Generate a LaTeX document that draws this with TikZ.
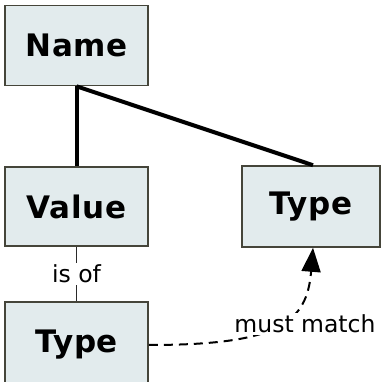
\documentclass[tikz,border=0pt]{standalone}
\usepackage{fontspec}
\setmainfont{DejaVu Sans}
\newfontfamily\boxfont[LetterSpace=2]{DejaVu Sans}
\usetikzlibrary{arrows.meta, positioning}
\definecolor{boxfill}{HTML}{E2EBED}
\definecolor{boxline}{HTML}{45453A}
\definecolor{linkgrey}{HTML}{2A2A2A}

\tikzset{
  termbox/.style={draw=boxline, fill=boxfill, line width=1.6pt,
                  font=\boxfont\fontsize{31}{36}\selectfont\bfseries,
                  minimum width=143pt, minimum height=80pt, inner sep=0pt},
  treeline/.style={black, line width=4pt},
  relline/.style={linkgrey, line width=1.6pt},
  rellabel/.style={fill=white, font=\fontsize{23.5}{27}\selectfont,
                   inner sep=2pt, text=black}
}

\begin{document}
\begin{tikzpicture}[x=1pt, y=1pt]
  \useasboundingbox (0,0) rectangle (381,382);
  %% binding: name above value and declared type
  \node[termbox] (name) at (76.5,336.5) {Name};
  \node[termbox, minimum height=79pt] (value) at (76.5,175.5) {Value};
  \node[termbox, minimum width=138pt, minimum height=81pt] (decltype) at (311,175.5) {Type};
  %% type of the value (runs off the page)
  \node[termbox, minimum height=86pt] (valtype) at (76.5,37) {Type};

  \draw[treeline] (name.south) -- (value.north);
  \draw[treeline] (name.south) -- ([xshift=2pt]decltype.north);

  \draw[relline] (value.south) -- node[rellabel] (isof) {is of} (valtype.north);

  \draw[relline, black, line width=2pt, dash pattern=on 9pt off 6pt,
        -{Triangle[length=24pt, width=19pt, fill=black]}]
    (valtype.east) .. controls +(130,0) and +(-6,-75) .. ([xshift=2pt]decltype.south);
  \node[rellabel] (match) at (305,58) {must match};
\end{tikzpicture}
\end{document}
